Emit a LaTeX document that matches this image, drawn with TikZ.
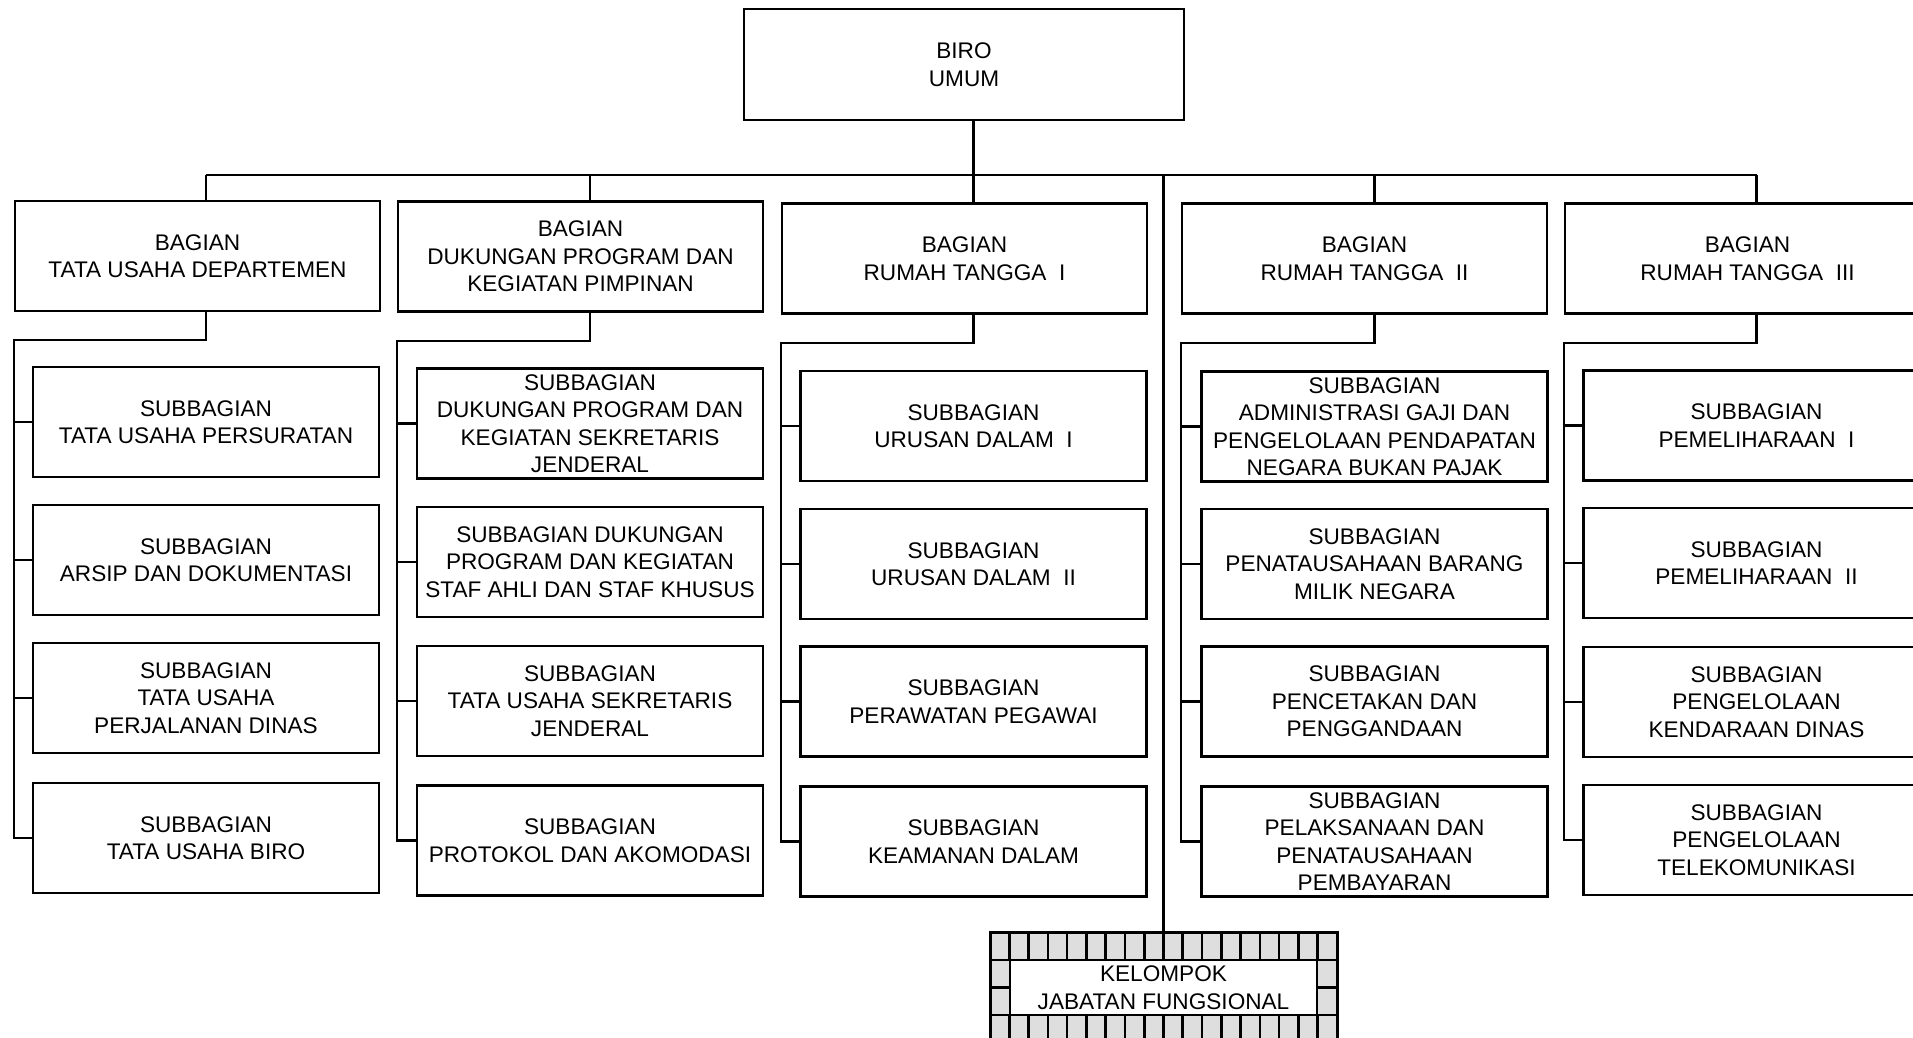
\documentclass[tikz,border=0pt]{standalone}
\usepackage{fontspec}
\setmainfont{Liberation Sans}
\begin{document}
\begin{tikzpicture}[x=1pt,y=-1pt,
  box/.style={draw, line width=2.4pt, rectangle, inner sep=0pt, align=center,
    font=\fontsize{22.6}{27.5}\selectfont},
  bag/.style={box, minimum width=365pt, minimum height=110pt},
  sub/.style={box, minimum width=346pt, minimum height=110pt},
  conn/.style={line width=2.4pt, line join=miter},
  tile/.style={draw, line width=2.6pt, fill=black!13}]
\useasboundingbox (0,0) rectangle (1913,1037);
\clip (0,0) rectangle (1913,1037);

\node[box, minimum width=440pt, minimum height=111pt] (top) at (964,64.5) {BIRO\\UMUM};
\coordinate (bus) at (0,175);

% column 1
\node[bag] (b1) at (197.5,256) {BAGIAN\\TATA USAHA DEPARTEMEN};
\node[sub] (s11) at (206,422) {SUBBAGIAN\\TATA USAHA PERSURATAN};
\node[sub] (s12) at (206,560) {SUBBAGIAN\\ARSIP DAN DOKUMENTASI};
\node[sub] (s13) at (206,698) {SUBBAGIAN\\TATA USAHA\\PERJALANAN DINAS};
\node[sub] (s14) at (206,838) {SUBBAGIAN\\TATA USAHA BIRO};

% column 2
\node[bag] (b2) at (580.5,256.5) {BAGIAN\\DUKUNGAN PROGRAM DAN\\KEGIATAN PIMPINAN};
\node[sub] (s21) at (590,423.5) {SUBBAGIAN\\DUKUNGAN PROGRAM DAN\\KEGIATAN SEKRETARIS\\JENDERAL};
\node[sub] (s22) at (590,562) {SUBBAGIAN DUKUNGAN\\PROGRAM DAN KEGIATAN\\STAF AHLI DAN STAF KHUSUS};
\node[sub] (s23) at (590,701) {SUBBAGIAN\\TATA USAHA SEKRETARIS\\JENDERAL};
\node[sub] (s24) at (590,840.5) {SUBBAGIAN\\PROTOKOL DAN AKOMODASI};

% column 3
\node[bag] (b3) at (964.5,258.5) {BAGIAN\\RUMAH TANGGA\ \ I};
\node[sub] (s31) at (973.5,426) {SUBBAGIAN\\URUSAN DALAM\ \ I};
\node[sub] (s32) at (973.5,564) {SUBBAGIAN\\URUSAN DALAM\ \ II};
\node[sub] (s33) at (973.5,701.5) {SUBBAGIAN\\PERAWATAN PEGAWAI};
\node[sub] (s34) at (973.5,841.5) {SUBBAGIAN\\KEAMANAN DALAM};

% column 4
\node[bag] (b4) at (1364.5,258.5) {BAGIAN\\RUMAH TANGGA\ \ II};
\node[sub] (s41) at (1374.5,426.5) {SUBBAGIAN\\ADMINISTRASI GAJI DAN\\PENGELOLAAN PENDAPATAN\\NEGARA BUKAN PAJAK};
\node[sub] (s42) at (1374.5,564) {SUBBAGIAN\\PENATAUSAHAAN BARANG\\MILIK NEGARA};
\node[sub] (s43) at (1374.5,701.5) {SUBBAGIAN\\PENCETAKAN DAN\\PENGGANDAAN};
\node[sub] (s44) at (1374.5,841.5) {SUBBAGIAN\\PELAKSANAAN DAN\\PENATAUSAHAAN\\PEMBAYARAN};

% column 5
\node[bag] (b5) at (1747.5,258.5) {BAGIAN\\RUMAH TANGGA\ \ III};
\node[sub] (s51) at (1756.5,425.5) {SUBBAGIAN\\PEMELIHARAAN\ \ I};
\node[sub] (s52) at (1756.5,563) {SUBBAGIAN\\PEMELIHARAAN\ \ II};
\node[sub] (s53) at (1756.5,702) {SUBBAGIAN\\PENGELOLAAN\\KENDARAAN DINAS};
\node[sub] (s54) at (1756.5,840) {SUBBAGIAN\\PENGELOLAAN\\TELEKOMUNIKASI};

% Kelompok jabatan fungsional
\foreach \i in {0,...,17}{
  \draw[tile] ({990+\i*19.2778},932) rectangle ++(19.2778,28);
  \draw[tile] ({990+\i*19.2778},1015) rectangle ++(19.2778,28);
}
\draw[tile] (990,960) rectangle (1010,987.5);
\draw[tile] (990,987.5) rectangle (1010,1015);
\draw[tile] (1317,960) rectangle (1337,987.5);
\draw[tile] (1317,987.5) rectangle (1337,1015);
\node[draw, line width=3pt, inner sep=0pt, minimum width=347pt, minimum height=111pt] (kel) at (1163.5,987.5) {};
\node[box, line width=2.6pt, fill=white, minimum width=307pt, minimum height=55pt] (kelin) at (1163.5,987.5) {KELOMPOK\\JABATAN FUNGSIONAL};

% connectors
\draw[conn] (top.south -| s31.north) -- (s31.north |- bus);
\draw[conn] (s11.north |- bus) -- (s51.north |- bus);
\draw[conn] (kel.north |- bus) -- (kel.north);
\foreach \c in {1,...,5}{
  \draw[conn] (s\c1.north |- bus) -- (s\c1.north |- b\c.north);
  \draw[conn] (s\c1.north |- b\c.south) -- ++(0,28) -| (b\c.west |- s\c4.west) -- (s\c4.west);
  \foreach \k in {1,2,3}{
    \draw[conn] (b\c.west |- s\c\k.west) -- (s\c\k.west);
  }
}
\end{tikzpicture}
\end{document}
